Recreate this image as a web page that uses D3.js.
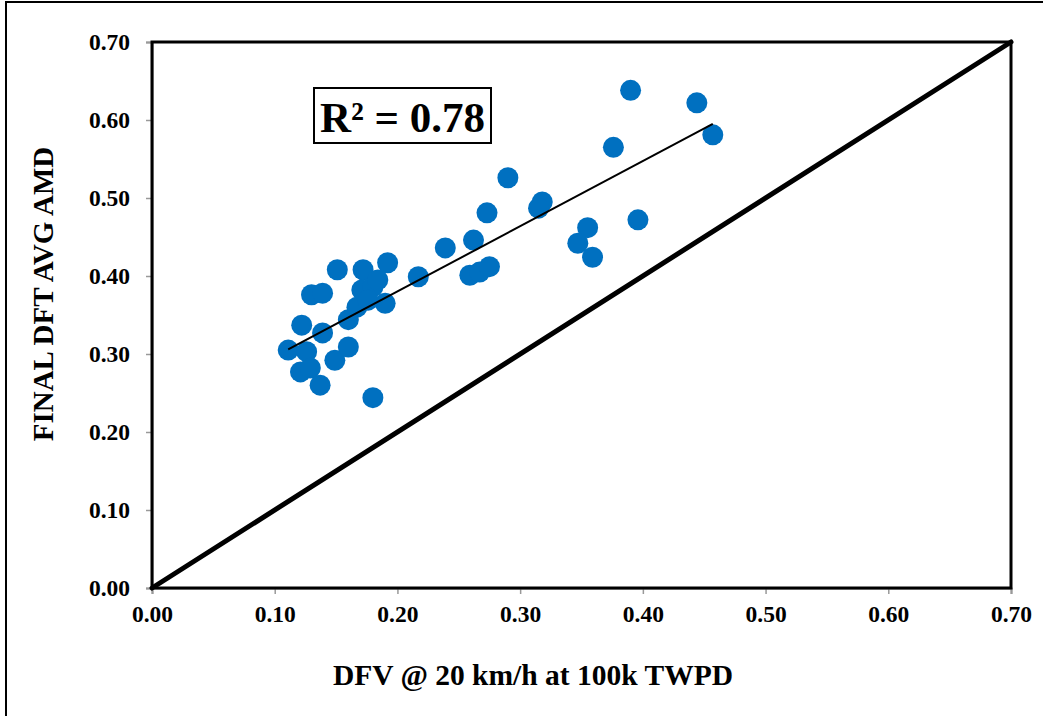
<!DOCTYPE html>
<html><head><meta charset="utf-8">
<script src="https://cdn.jsdelivr.net/npm/d3@7"></script>
<style>body{margin:0;background:#fff}svg{display:block}</style>
</head><body>
<script>
const xVals = [0.111,0.122,0.130,0.139,0.139,0.126,0.121,0.129,0.137,0.149,0.160,0.160,0.151,0.172,0.192,0.217,0.171,0.180,0.190,0.167,0.180,0.290,0.273,0.262,0.239,0.259,0.267,0.275,0.318,0.315,0.390,0.444,0.376,0.457,0.396,0.355,0.347,0.359,0.184,0.176];
const yVals = [0.305,0.337,0.376,0.378,0.327,0.303,0.277,0.282,0.260,0.292,0.309,0.344,0.408,0.408,0.417,0.399,0.382,0.386,0.365,0.360,0.244,0.526,0.481,0.446,0.436,0.401,0.405,0.412,0.495,0.487,0.638,0.622,0.565,0.581,0.472,0.462,0.442,0.424,0.395,0.369];
const xTicks = [0,0.1,0.2,0.3,0.4,0.5,0.6,0.7];
const yTicks = [0,0.1,0.2,0.3,0.4,0.5,0.6,0.7];
const trendSlope = 0.836, trendIntercept = 0.213;
const rSquaredLabel = "R² = 0.78";
const xTitle = "DFV @ 20 km/h at 100k TWPD";
const yTitle = "FINAL DFT AVG AMD";

const W=1043,H=716;
const svg=d3.select("body").append("svg").attr("width",W).attr("height",H);
svg.append("rect").attr("x",6).attr("y",2).attr("width",1060).attr("height",740).attr("fill","none").attr("stroke","#000").attr("stroke-width",2);

const L=152,R=1011,T=42,B=588;
const x=d3.scaleLinear().domain([0,0.7]).range([L,R]);
const y=d3.scaleLinear().domain([0,0.7]).range([B,T]);
const font="'Liberation Serif','Times New Roman',serif";

const xa=svg.append("g").attr("transform",`translate(0,${B})`).call(d3.axisBottom(x).tickValues(xTicks).tickFormat(d3.format(".2f")).tickSize(6).tickPadding(11));
const ya=svg.append("g").attr("transform",`translate(${L},0)`).call(d3.axisLeft(y).tickValues(yTicks).tickFormat(d3.format(".2f")).tickSize(6).tickPadding(16));
[xa,ya].forEach(a=>{
  a.select(".domain").attr("stroke","#888").attr("stroke-width",2);
  a.selectAll(".tick line").attr("stroke","#999").attr("stroke-width",1.5);
  a.selectAll(".tick text").attr("font-family",font).attr("font-weight","bold").attr("font-size",23.5).attr("fill","#000");
});
ya.selectAll(".tick text").attr("dy","0.3em");

svg.append("rect").attr("x",L).attr("y",T).attr("width",R-L).attr("height",B-T).attr("fill","none").attr("stroke","#000").attr("stroke-width",3);

svg.append("line").attr("x1",x(0)).attr("y1",y(0)).attr("x2",x(0.7)).attr("y2",y(0.7)).attr("stroke","#000").attr("stroke-width",5).attr("stroke-linecap","round");

const pts=xVals.map((v,i)=>[v,yVals[i]]);
svg.append("g").selectAll("circle").data(pts).join("circle")
  .attr("cx",d=>x(d[0])).attr("cy",d=>y(d[1])).attr("r",10.5).attr("fill","#0070C0");

const x0=d3.min(xVals), x1=d3.max(xVals);
svg.append("line").attr("x1",x(x0)).attr("y1",y(trendIntercept+trendSlope*x0)).attr("x2",x(x1)).attr("y2",y(trendIntercept+trendSlope*x1)).attr("stroke","#000").attr("stroke-width",2);

svg.append("rect").attr("x",314).attr("y",88).attr("width",177).attr("height",55).attr("fill","#fff").attr("stroke","#000").attr("stroke-width",2);
svg.append("text").attr("x",402.5).attr("y",132).attr("text-anchor","middle").attr("font-family",font).attr("font-weight","bold").attr("font-size",43).text(rSquaredLabel);

svg.append("text").attr("x",533).attr("y",685).attr("text-anchor","middle").attr("font-family",font).attr("font-weight","bold").attr("font-size",29.5).text(xTitle);
svg.append("text").attr("transform","translate(53,294) rotate(-90)").attr("text-anchor","middle").attr("font-family",font).attr("font-weight","bold").attr("font-size",29).text(yTitle);
</script>
</body></html>
